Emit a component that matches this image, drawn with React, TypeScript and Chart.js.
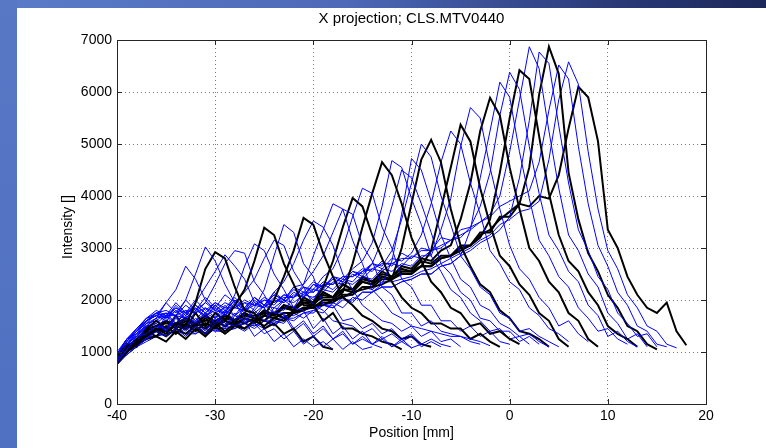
import React, { useEffect, useRef } from 'react';
import { Chart, registerables } from 'chart.js';

Chart.register(...registerables);

const X_START = -40;
const X_STEP = 1;
const xTickValues = [-40, -30, -20, -10, 0, 10, 20];
const yTickValues = [0, 1000, 2000, 3000, 4000, 5000, 6000, 7000];
const chartTitle = 'X projection; CLS.MTV0440';
const xAxisLabel = 'Position [mm]';
const yAxisLabel = 'Intensity []';

// Intensity profiles, one value per mm starting at X_START
const curve01 = [950,1250,1300,1550,1650,1950,2200,2650,2400,2000,1800,1550,1500,1600,1300,1450,1200,1350,1100,1250,1100,1200,1050];
const curve02 = [800,1050,1300,1350,1500,1450,1700,2000,2500,3020,2750,2300,1950,1650,1550,1350,1450,1250,1400,1150,1300,1100,1250,1050,1200,1050,1100];
const curve03 = [780,1000,1200,1300,1450,1350,1550,1500,1950,2600,2920,2800,2250,1800,1750,1450,1550,1350,1450,1200,1300,1100,1050];
const curve04 = [1000,1250,1450,1600,1750,1650,1900,1700,1950,2250,2550,2870,2650,2400,1950,1850,1500,1700,1400,1550,1300,1450,1250,1350,1150,1300,1150,1250,1100,1200,1080];
const curve05 = [850,1150,1200,1500,1650,1400,1700,1450,1800,1950,2300,2700,2950,2900,2350,2100,1750,1750,1450,1600,1350,1500,1250,1400,1150,1250,1150,1080];
const curve06 = [750,950,1100,1250,1400,1300,1450,1300,1500,1350,1550,1750,2100,2650,3080,2950,2500,2200,1850,1800,1450,1650,1350,1500,1250,1400,1150,1300,1100,1250,1080,1150];
const curve07 = [900,1150,1100,1450,1600,1450,1700,1450,1750,1500,1750,1600,1900,2200,2750,3390,3250,2700,2300,1900,1900,1600,1750,1450,1450,1350,1300,1200,1150,1050];
const curve08 = [950,1200,1450,1650,1700,1950,1750,2000,1800,2050,1850,2100,1950,2150,2400,2800,3150,3050,2550,2250,1900,1800,1600,1550,1500,1350,1450,1250,1350,1200,1300,1100,1200,1100];
const curve09 = [820,1050,1200,1250,1450,1350,1550,1400,1600,1400,1650,1450,1700,1600,1850,2200,2850,3450,3300,2700,2450,1900,1900,1600,1650,1450,1550,1350,1450,1250,1350,1150,1250,1150,1100];
const curve10 = [800,1000,1150,1250,1300,1200,1400,1250,1450,1300,1500,1350,1500,1450,1600,1700,2000,2450,2950,3580,3450,2900,2450,2050,1900,1700,1600,1450,1400,1250,1300,1150,1100];
const curve11 = [950,1150,1400,1600,1700,1650,1800,1600,1850,1650,1900,1700,1900,1750,2000,1850,2150,2350,2700,3150,3520,3400,3050,2500,2200,1900,1750,1600,1550,1400,1500,1300,1400,1200,1250,1100];
const curve12 = [780,1000,1150,1450,1550,1400,1650,1450,1650,1500,1700,1500,1750,1550,1800,1600,1850,1800,2050,2300,2850,3350,3850,3750,3150,2700,2200,2000,1750,1650,1500,1450,1400,1350,1300,1300,1200,1150];
const curve13 = [950,1250,1350,1600,1750,1650,1850,1700,1900,1750,1950,1800,2000,1850,2050,1900,2100,2000,2250,2300,2550,2850,3300,3750,3650,3050,2750,2250,2100,1750,1750,1500,1600,1400,1350,1300,1250,1200,1120];
const curve14 = [800,1000,1150,1300,1400,1300,1450,1350,1500,1350,1550,1400,1550,1450,1600,1500,1650,1600,1750,1800,1950,2250,2750,3400,3960,3800,3250,2800,2350,2050,1850,1750,1550,1550,1450,1450,1250,1350,1200,1100];
const curve15 = [950,1150,1300,1550,1600,1750,1550,1800,1600,1850,1650,1900,1700,1950,1800,2000,1900,2100,2050,2250,2200,2450,2600,3000,3600,4150,4050,3400,3000,2400,2250,1900,1900,1600,1600,1400,1500,1300,1400,1200,1150];
const curve16 = [850,1050,1200,1400,1300,1500,1350,1550,1400,1550,1450,1600,1500,1650,1550,1700,1650,1750,1750,1850,1850,2000,2000,2150,2700,3400,4050,4650,4400,3850,3200,2750,2350,2150,1850,1750,1500,1550,1350,1400,1250,1150];
const curve17 = [950,1250,1450,1650,1800,1700,1950,1750,2000,1800,1950,1850,2050,1850,2050,1900,2150,2000,2250,2150,2350,2250,2450,2400,2600,2750,3100,3800,4680,4550,3950,3450,2850,2550,2200,2050,1750,1600,1400,1450,1250,1300,1150];
const curve18 = [880,1150,1300,1500,1400,1700,1450,1700,1550,1750,1550,1800,1600,1850,1650,1900,1750,2000,1850,2150,2000,2300,2200,2400,2350,2550,2700,3150,3800,4500,4350,3850,3300,2700,2500,2150,2000,1650,1600,1400,1400,1200,1300,1150];
const curve19 = [800,950,1100,1200,1300,1200,1400,1250,1450,1300,1450,1350,1500,1400,1550,1450,1600,1550,1750,1650,1800,1750,1950,1850,2050,2000,2150,2300,2750,3650,4720,4500,3900,3250,2800,2400,2250,1900,1800,1550,1450,1300,1350,1200,1100];
const curve20 = [900,1150,1350,1600,1700,1600,1800,1650,1850,1700,1850,1700,1950,1800,1950,1850,2050,1950,2150,2050,2300,2200,2450,2350,2550,2450,2700,2650,2950,3550,4250,5000,4750,4000,3450,2850,2600,2250,2100,1750,1650,1400,1450,1300,1200,1100];
const curve21 = [850,1050,1150,1350,1450,1400,1500,1450,1550,1450,1600,1500,1600,1550,1650,1600,1750,1650,1800,1800,1900,1900,2000,2050,2150,2200,2250,2300,2400,3000,3850,4700,5080,4650,3750,3050,2650,2300,2150,1800,1650,1400,1350,1250,1100];
const curve22 = [950,1200,1400,1550,1750,1700,1850,1750,1900,1750,1900,1750,2000,1800,2050,1900,2100,2000,2200,2100,2300,2250,2400,2350,2550,2500,2700,2600,2800,2750,2900,3250,3850,4650,5250,5000,4250,3650,2950,2700,2350,2200,1850,1700,1450,1350,1200];
const curve23 = [850,1050,1200,1450,1400,1600,1450,1600,1500,1650,1500,1650,1600,1700,1650,1750,1700,1850,1800,1950,1900,2100,2050,2200,2150,2350,2300,2450,2400,2550,2550,2650,2950,3750,4550,5370,5050,4150,3450,2850,2650,2300,2100,1750,1600,1250,1100];
const curve24 = [900,1150,1300,1500,1550,1700,1550,1750,1600,1750,1650,1800,1700,1850,1750,1900,1850,2000,1950,2100,2050,2200,2150,2350,2300,2450,2400,2600,2550,2700,2650,2850,2850,3350,3950,4950,5700,5500,4550,3750,3050,2600,2400,2050,1850,1500,1600,1350,1200];
const curve25 = [860,1100,1250,1450,1500,1600,1500,1650,1550,1700,1550,1700,1600,1750,1650,1800,1700,1900,1850,2000,1950,2150,2050,2300,2200,2450,2350,2550,2450,2650,2600,2800,2750,2950,3050,3550,4250,5250,5890,5550,4550,3750,3000,2750,2350,2150,1750,1600,1250,1100];
const curve26 = [800,950,1100,1250,1300,1400,1350,1450,1350,1500,1400,1500,1450,1550,1500,1600,1550,1650,1650,1750,1800,1900,1850,2000,2000,2150,2150,2250,2250,2350,2400,2500,2500,2650,2700,2850,3350,4350,5250,6190,5900,4850,3950,3150,2850,2450,2250,1850,1650,1400,1450,1250,1150];
const curve27 = [950,1250,1400,1650,1750,1800,1700,1900,1750,1950,1800,1950,1850,2000,1900,2050,1950,2100,2050,2250,2150,2350,2300,2450,2450,2600,2550,2750,2650,2900,2800,3000,2950,3200,3150,3350,3400,3800,4450,5550,6380,6050,4950,4050,3250,2950,2550,2350,1900,1700,1300,1400,1200,1100];
const curve28 = [850,1050,1250,1350,1450,1450,1500,1500,1500,1550,1500,1600,1550,1650,1600,1700,1650,1750,1750,1850,1850,1950,1950,2100,2100,2250,2250,2400,2400,2500,2500,2650,2650,2800,2850,2950,3050,3200,3550,4450,5500,6420,6250,5150,4050,3250,2750,2550,2150,1900,1500,1350,1250,1100];
const curve29 = [920,1150,1350,1500,1650,1700,1700,1650,1800,1700,1800,1750,1850,1800,1900,1850,2000,1950,2100,2050,2200,2150,2350,2300,2500,2400,2600,2550,2700,2650,2850,2800,2950,3000,3150,3200,3400,3500,3650,4000,4850,5850,6870,6450,5250,4150,3250,2950,2500,2250,1750,1550,1250,1350,1100];
const curve30 = [800,1000,1100,1300,1300,1350,1400,1350,1350,1450,1400,1400,1450,1550,1450,1600,1500,1650,1600,1750,1750,1900,1850,2050,1950,2150,2150,2250,2250,2350,2400,2500,2500,2650,2700,2850,2950,3100,3200,3350,3600,4350,5450,6770,6550,5350,4250,3350,2950,2450,2200,1750,1550,1300,1350,1100];
const curve31 = [880,1050,1150,1400,1500,1550,1550,1650,1550,1600,1600,1700,1600,1700,1700,1750,1750,1850,1800,1950,1950,2050,2050,2200,2200,2350,2300,2450,2400,2550,2550,2650,2650,2800,2850,3000,3050,3250,3350,3550,3700,3850,4550,5950,6870,6350,4450,3550,2900,2550,2100,1850,1500,1400,1150,1050];
const curve32 = [950,1200,1400,1600,1700,1750,1700,1800,1750,1850,1750,1850,1850,1950,1900,2000,1950,2050,2050,2150,2150,2300,2300,2450,2450,2550,2600,2700,2700,2800,2800,2950,2950,3050,3150,3250,3350,3500,3600,3800,3900,4000,4100,4650,5650,6520,6250,4950,3850,3050,2650,2150,1900,1500,1400,1150,1100];
const curve33 = [780,1000,1150,1250,1400,1400,1350,1500,1400,1550,1450,1450,1500,1550,1500,1600,1600,1700,1700,1800,1850,1900,1950,2050,2100,2250,2200,2350,2350,2400,2450,2550,2600,2700,2800,2900,3000,3150,3250,3450,3550,3700,3750,3900,4700,5850,6580,6150,4850,3750,2950,2600,2100,1850,1500,1400,1150,1080];
const curve34 = [900,1100,1200,1450,1420,1600,1500,1650,1550,1700,1580,1720,1620,1750,1650,1800,1720,1900,1800,2050,1950,2150,2050,2300,2200,2400,2350,2500,2450,2600,2550,2750,2700,2850,2850,3050,3050,3300,3300,3600,3600,3850,3800,4000,3950,4400,5300,6100,5900,5050,3350,3000,2450,2100,1850,1750,1950,1400,1130];

const curves = [
  curve01, curve02, curve03, curve04, curve05, curve06, curve07, curve08, curve09,
  curve10, curve11, curve12, curve13, curve14, curve15, curve16, curve17, curve18,
  curve19, curve20, curve21, curve22, curve23, curve24, curve25, curve26, curve27,
  curve28, curve29, curve30, curve31, curve32, curve33, curve34,
];
// 'k' = black (thick), 'b' = blue (thin)
const curveColors = [
  'b','b','k','b','b','b','k','b','b',
  'k','b','b','b','k','b','k','b','b',
  'b','b','k','b','k','b','k','b','b',
  'k','b','b','k','b','b','k',
];

const FONT = '"Liberation Sans", Arial, Helvetica, sans-serif';

const framePlugin = {
  id: 'frame',
  afterDatasetsDraw(chart: any) {
    const { ctx, chartArea } = chart;
    const { left, top, right, bottom } = chartArea;
    const xs = chart.scales.x;
    const ys = chart.scales.y;
    ctx.save();
    ctx.strokeStyle = '#262626';
    ctx.lineWidth = 1;
    ctx.beginPath();
    xTickValues.forEach((v) => {
      const px = Math.round(xs.getPixelForValue(v)) + 0.5;
      ctx.moveTo(px, bottom);
      ctx.lineTo(px, bottom - 5);
      ctx.moveTo(px, top);
      ctx.lineTo(px, top + 5);
    });
    yTickValues.forEach((v) => {
      const py = Math.round(ys.getPixelForValue(v)) + 0.5;
      ctx.moveTo(left, py);
      ctx.lineTo(left + 5, py);
      ctx.moveTo(right, py);
      ctx.lineTo(right - 5, py);
    });
    ctx.stroke();
    ctx.strokeRect(Math.round(left) + 0.5, Math.round(top) + 0.5, Math.round(right - left), Math.round(bottom - top));
    ctx.restore();
  },
  afterDraw(chart: any) {
    const { ctx, chartArea } = chart;
    const cx = (chartArea.left + chartArea.right) / 2;
    const cy = (chartArea.top + chartArea.bottom) / 2;
    ctx.save();
    ctx.fillStyle = '#000';
    ctx.textAlign = 'center';
    ctx.textBaseline = 'middle';
    ctx.font = `15px ${FONT}`;
    ctx.fillText(chartTitle, cx, 19);
    ctx.font = `14px ${FONT}`;
    ctx.fillText(xAxisLabel, cx, 433);
    ctx.translate(68, cy + 5);
    ctx.rotate(-Math.PI / 2);
    ctx.fillText(yAxisLabel, 0, 0);
    ctx.restore();
  },
};

export default function App() {
  const canvasRef = useRef<HTMLCanvasElement | null>(null);

  useEffect(() => {
    document.body.style.margin = '0';
    const canvas = canvasRef.current;
    if (!canvas) return;

    const datasets = curves.map((ys, i) => {
      const black = curveColors[i] === 'k';
      return {
        data: ys.map((y, j) => ({ x: X_START + j * X_STEP, y })),
        borderColor: black ? '#000000' : '#0000ff',
        borderWidth: black ? 2 : 1,
        pointRadius: 0,
        tension: 0,
        fill: false,
      };
    });

    const chart = new Chart(canvas, {
      type: 'line',
      data: { datasets },
      plugins: [framePlugin],
      options: {
        responsive: false,
        animation: false,
        events: [],
        layout: { padding: { top: 40, right: 60, left: 0, bottom: 0 } },
        plugins: {
          legend: { display: false },
          tooltip: { enabled: false },
          title: { display: false },
        },
        scales: {
          x: {
            type: 'linear',
            min: xTickValues[0],
            max: xTickValues[xTickValues.length - 1],
            afterBuildTicks: (s: any) => {
              s.ticks = xTickValues.map((v) => ({ value: v }));
            },
            afterFit: (s: any) => {
              s.height = 44;
            },
            grid: { color: '#7a7a7a', lineWidth: 1, drawTicks: false },
            border: { display: false, dash: [1, 3] },
            ticks: {
              padding: 4,
              color: '#000',
              font: { family: FONT, size: 14 },
              maxRotation: 0,
              autoSkip: false,
              callback: (v: any) => String(v),
            },
          },
          y: {
            type: 'linear',
            min: yTickValues[0],
            max: yTickValues[yTickValues.length - 1],
            afterBuildTicks: (s: any) => {
              s.ticks = yTickValues.map((v) => ({ value: v }));
            },
            afterFit: (s: any) => {
              s.width = 117;
            },
            grid: { color: '#7a7a7a', lineWidth: 1, drawTicks: false },
            border: { display: false, dash: [1, 3] },
            ticks: {
              padding: 5,
              color: '#000',
              font: { family: FONT, size: 14 },
              autoSkip: false,
              callback: (v: any) => String(v),
            },
          },
        },
      },
    } as any);

    return () => chart.destroy();
  }, []);

  return (
    <div
      style={{
        position: 'relative',
        width: 766,
        height: 448,
        overflow: 'hidden',
        background: 'linear-gradient(to right, #5b7bc9 0%, #4d69b8 45%, #2a3a78 80%, #1c2759 100%)',
      }}
    >
      <div style={{ position: 'absolute', left: 0, top: 0, width: 17, height: 448, background: 'linear-gradient(to bottom, #5878c6, #4f70c0)' }} />
      <div style={{ position: 'absolute', left: 17, top: 8, right: 0, bottom: 0, background: '#ffffff' }} />
      <canvas ref={canvasRef} width={766} height={448} style={{ position: 'absolute', left: 0, top: 0 }} />
    </div>
  );
}
